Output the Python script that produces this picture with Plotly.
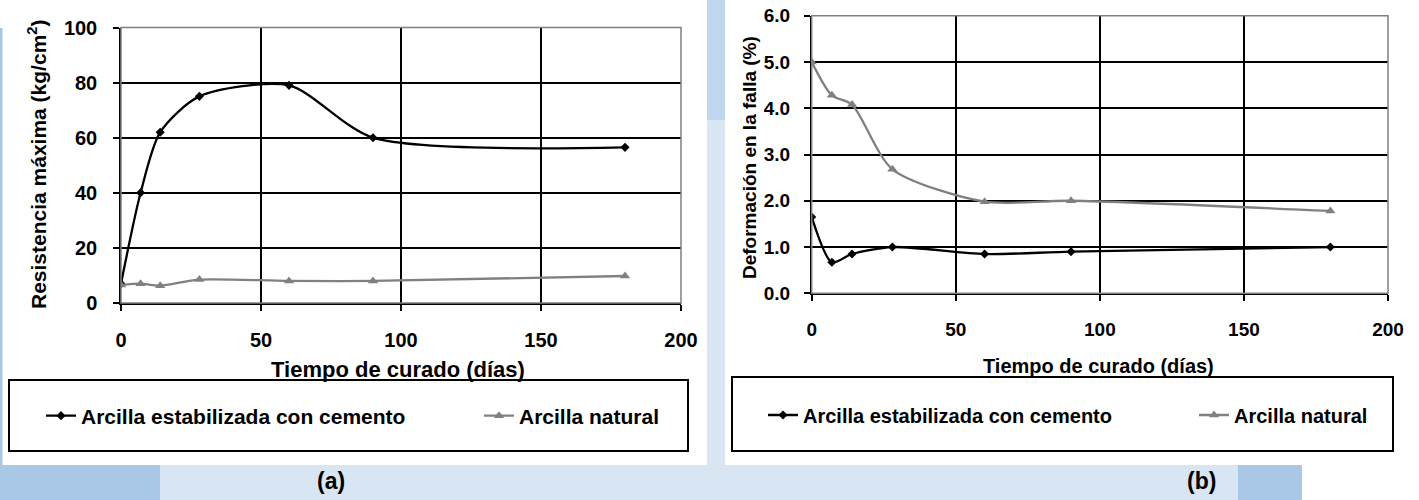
import plotly.graph_objects as go

W, H = 1419, 500

# ---- data ----
dias = [0, 7, 14, 28, 60, 90, 180]
res_cemento = [7, 40, 62, 75, 79, 60, 56.5]
res_natural = [6.5, 7, 6.3, 8.5, 8, 8, 9.8]
def_cemento = [1.65, 0.67, 0.85, 1.0, 0.85, 0.9, 1.0]
def_natural = [5.0, 4.28, 4.08, 2.68, 1.98, 2.0, 1.78]
x_ticks = [0, 50, 100, 150, 200]
y_ticks_a = [0, 20, 40, 60, 80, 100]
y_ticks_b = [0, 1, 2, 3, 4, 5, 6]
y_ticklabels_b = ["0.0", "1.0", "2.0", "3.0", "4.0", "5.0", "6.0"]
serie_cem = "Arcilla estabilizada con cemento"
serie_nat = "Arcilla natural"

FONT = "Arial, Liberation Sans, sans-serif"
GRAY = "#808080"
DARK_BLUE = "#a8c8e6"
MID_BLUE = "#c0d6ee"
LIGHT_BLUE = "#d8e5f3"
SMOOTH = 0.75

def px(x):
    return x / W

def py(y):
    return 1 - y / H

fig = go.Figure()

# panel (a)
fig.add_trace(go.Scatter(x=dias, y=res_cemento, name=serie_cem, mode="lines+markers",
                         line=dict(color="black", width=2.3, shape="spline", smoothing=SMOOTH),
                         marker=dict(symbol="diamond", size=7, color="black"),
                         xaxis="x", yaxis="y", legend="legend", showlegend=True))
fig.add_trace(go.Scatter(x=dias, y=res_natural, name=serie_nat, mode="lines+markers",
                         line=dict(color=GRAY, width=2.3, shape="spline", smoothing=SMOOTH),
                         marker=dict(symbol="triangle-up", size=9, color=GRAY),
                         xaxis="x", yaxis="y", legend="legend2", showlegend=True))
# panel (b)
fig.add_trace(go.Scatter(x=dias, y=def_cemento, name=serie_cem, mode="lines+markers",
                         line=dict(color="black", width=2.3, shape="spline", smoothing=SMOOTH),
                         marker=dict(symbol="diamond", size=7, color="black"),
                         xaxis="x2", yaxis="y2", legend="legend3", showlegend=True))
fig.add_trace(go.Scatter(x=dias, y=def_natural, name=serie_nat, mode="lines+markers",
                         line=dict(color=GRAY, width=2.3, shape="spline", smoothing=SMOOTH),
                         marker=dict(symbol="triangle-up", size=9, color=GRAY),
                         xaxis="x2", yaxis="y2", legend="legend4", showlegend=True))

# plot areas (pixel boxes)
A = dict(x0=121, x1=681, y0=27.5, y1=303)
B = dict(x0=811.7, x1=1388, y0=15.7, y1=293.3)

def xaxis(box, fs, standoff, anchor):
    return dict(domain=[px(box["x0"]), px(box["x1"])], range=[0, 200], tickvals=x_ticks,
                showgrid=True, gridcolor="black", gridwidth=1.5, showline=True,
                linecolor="black", linewidth=1.5, ticks="outside", ticklen=6,
                tickcolor="black", tickwidth=1.5, zeroline=False, anchor=anchor,
                ticklabelstandoff=standoff, automargin=False,
                tickfont=dict(family=FONT, size=fs, color="black", weight="bold"))

def yaxis(box, rng, vals, texts, fs, standoff, anchor):
    return dict(domain=[py(box["y1"]), py(box["y0"])], range=rng, tickvals=vals, ticktext=texts,
                showgrid=True, gridcolor="black", gridwidth=1.5, showline=True,
                linecolor="black", linewidth=1.5, ticks="outside", ticklen=6,
                tickcolor="black", tickwidth=1.5, zeroline=False, anchor=anchor,
                ticklabelstandoff=standoff, automargin=False,
                tickfont=dict(family=FONT, size=fs, color="black", weight="bold"))

shapes = []
def rect(x0, y0, x1, y1, color):
    shapes.append(dict(type="rect", xref="paper", yref="paper", x0=px(x0), x1=px(x1),
                       y0=py(y1), y1=py(y0), fillcolor=color, line=dict(width=0), layer="below"))

# background decoration strips
rect(0, 28, 2.5, 465, DARK_BLUE)
rect(0, 465, 160, 500, DARK_BLUE)
rect(160, 465, 1238, 500, LIGHT_BLUE)
rect(1238, 465, 1302, 500, DARK_BLUE)
rect(707, 0, 725, 120, MID_BLUE)
rect(707, 120, 725, 465, LIGHT_BLUE)

# gray plot-area borders (top/right)
for box in (A, B):
    shapes.append(dict(type="rect", xref="paper", yref="paper", x0=px(box["x0"]), x1=px(box["x1"]),
                       y0=py(box["y1"]), y1=py(box["y0"]), line=dict(color=GRAY, width=1.5),
                       fillcolor="rgba(0,0,0,0)", layer="above"))

# legend boxes
for (x0, y0, x1, y1) in [(9, 380, 688, 451), (732, 377, 1393, 451)]:
    shapes.append(dict(type="rect", xref="paper", yref="paper", x0=px(x0), x1=px(x1),
                       y0=py(y1), y1=py(y0), line=dict(color="black", width=2),
                       fillcolor="rgba(0,0,0,0)", layer="above"))

def leg(xpix, ypix, fs):
    return dict(x=px(xpix), y=py(ypix), xanchor="left", yanchor="middle", orientation="h",
                bgcolor="rgba(0,0,0,0)", borderwidth=0, visible=True,
                font=dict(family=FONT, size=fs, color="black", weight="bold"))

annotations = []
def ann(text, xpix, ypix, fs, angle=0):
    annotations.append(dict(text=text, xref="paper", yref="paper", x=px(xpix), y=py(ypix),
                            xanchor="center", yanchor="middle", showarrow=False, textangle=angle,
                            font=dict(family=FONT, size=fs, color="black", weight="bold")))

ann("Tiempo de curado (días)", 398, 369, 22)
ann("Resistencia máxima (kg/cm<sup>2</sup>)", 37, 165, 21, -90)
ann("Tiempo de curado (días)", 1098, 366, 20)
ann("Deformación en la falla (%)", 749, 158, 19, -90)
ann("(a)", 331, 481, 23)
ann("(b)", 1201, 481, 23)

fig.update_layout(
    width=W, height=H, margin=dict(l=0, r=0, t=0, b=0, pad=0),
    paper_bgcolor="white", plot_bgcolor="white", showlegend=True,
    xaxis=xaxis(A, 20, 12, "y"),
    yaxis=yaxis(A, [0, 100], y_ticks_a, [str(v) for v in y_ticks_a], 20, 12, "x"),
    xaxis2=xaxis(B, 19, 12, "y2"),
    yaxis2=yaxis(B, [0, 6], y_ticks_b, y_ticklabels_b, 19, 10, "x2"),
    legend=leg(41, 416, 21),
    legend2=leg(479, 416, 21),
    legend3=leg(763, 415, 20),
    legend4=leg(1194, 415, 20),
    shapes=shapes, annotations=annotations,
)

fig.write_html("out.html", config={"displayModeBar": False},
               post_script="document.body.style.margin='0';document.body.style.padding='0';"
                           "document.body.style.overflow='hidden';")
